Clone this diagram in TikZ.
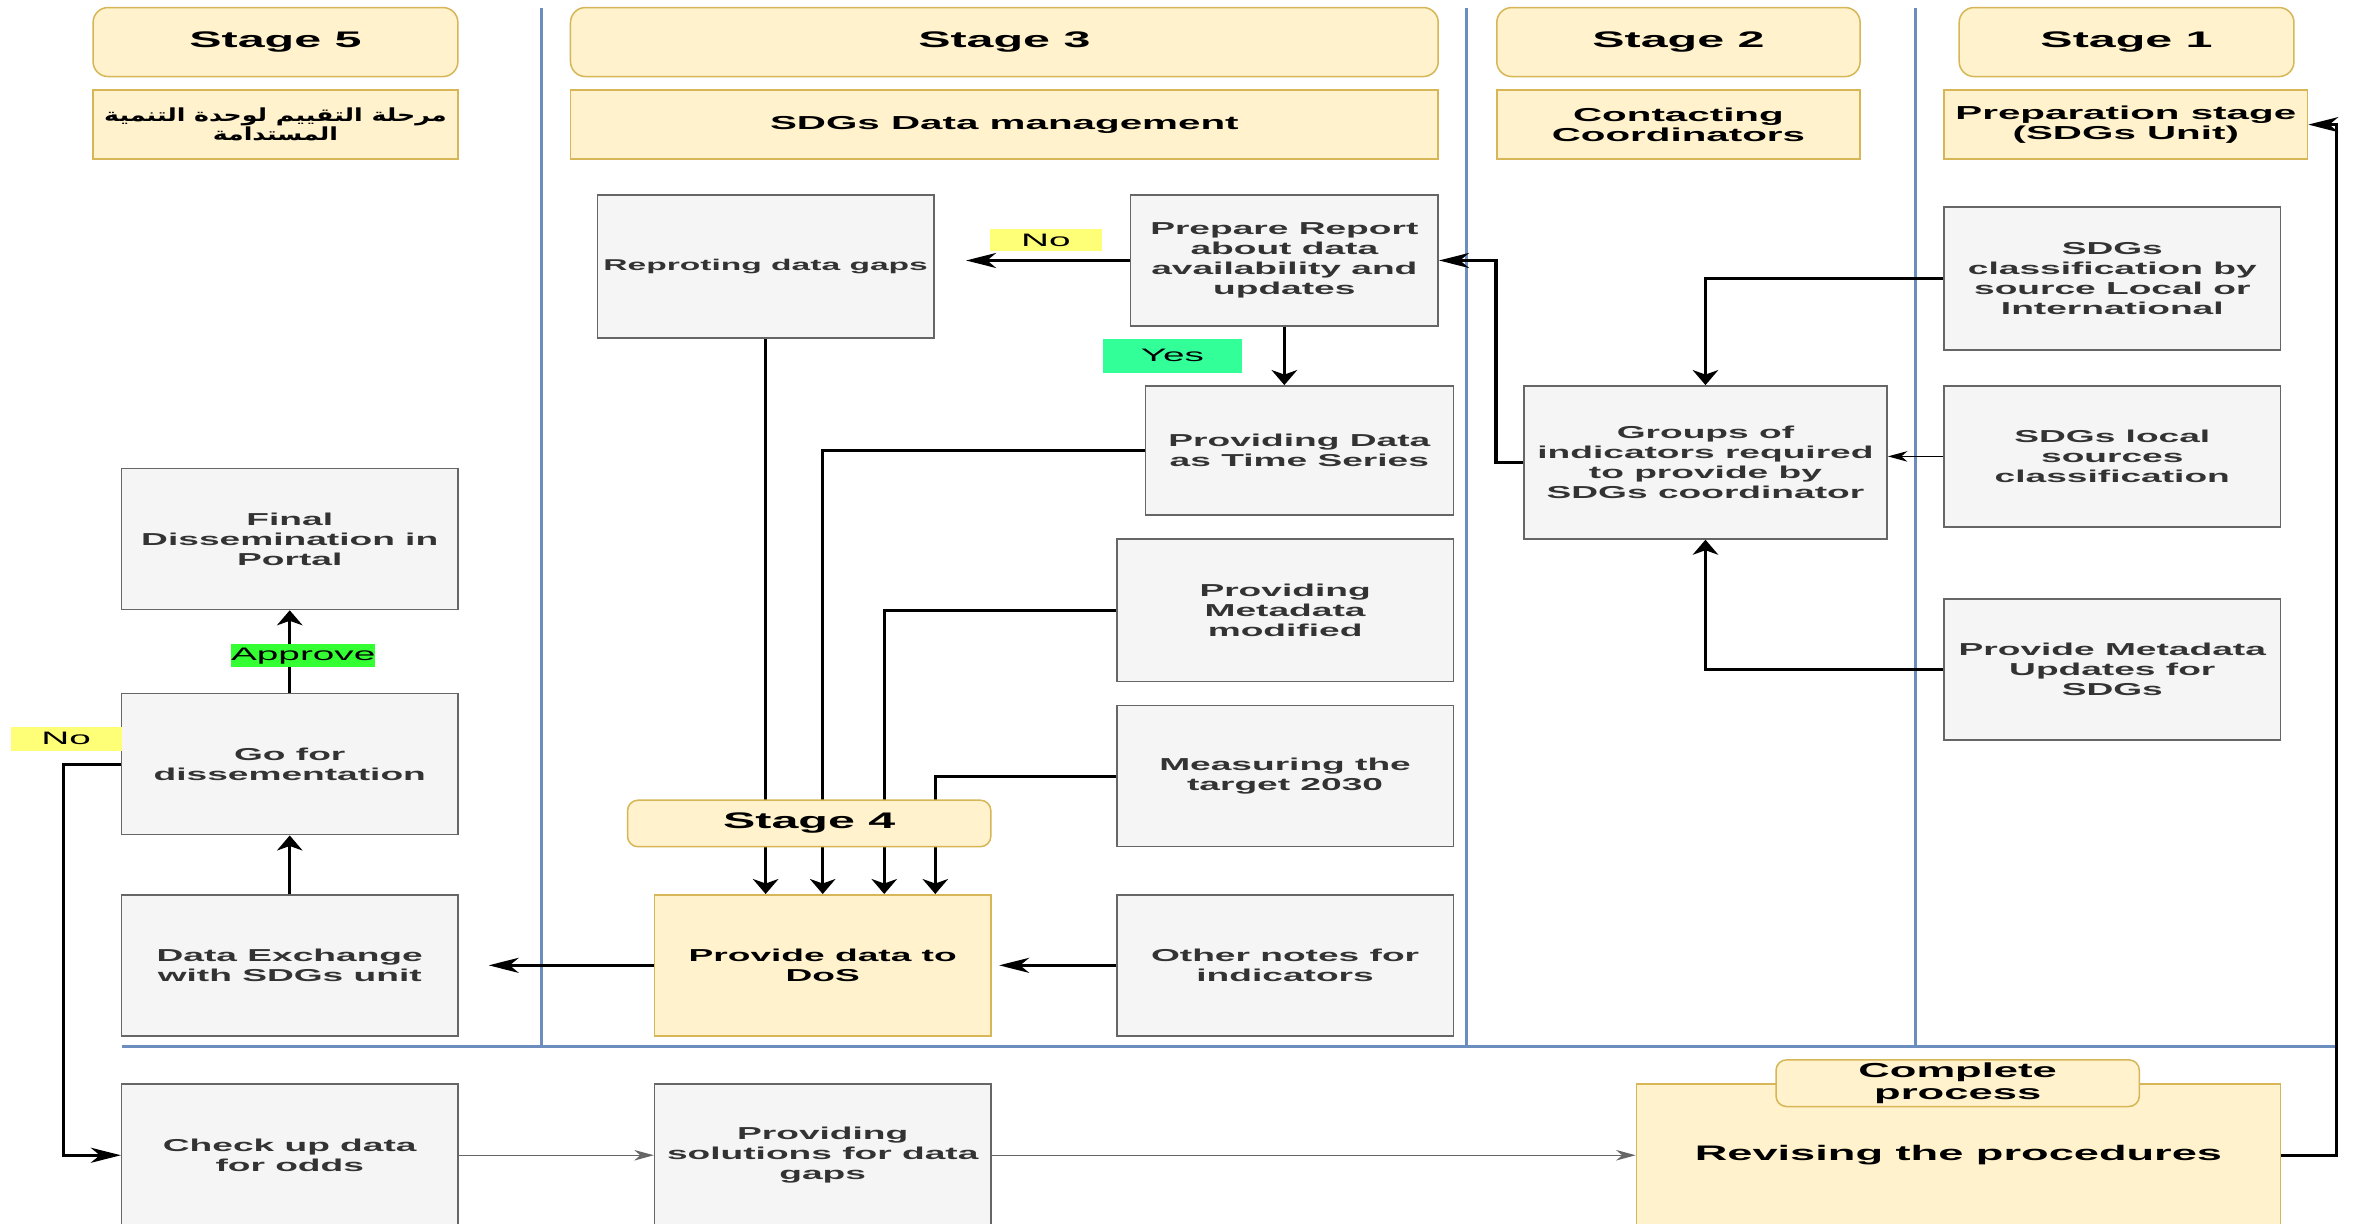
\documentclass[tikz,border=0pt]{standalone}
\usepackage{fontspec}
\setmainfont{Liberation Sans}[FakeStretch=2.15]
\newfontfamily\arabicfont[Script=Arabic,FakeStretch=1.4]{DejaVu Sans}
\TeXXeTstate=1
\usetikzlibrary{
        arrows.meta,
        positioning
    }
\definecolor{yfill}{HTML}{FFF2CC}
\definecolor{ydraw}{HTML}{D6B656}
\definecolor{gfill}{HTML}{F5F5F5}
\definecolor{gdraw}{HTML}{666666}
\definecolor{gtext}{HTML}{333333}
\definecolor{laneblue}{HTML}{6C8EBF}
\definecolor{notag}{HTML}{FFFF77}
\definecolor{yestag}{HTML}{33FF99}
\definecolor{oktag}{HTML}{33FF33}
\tikzset{hhead/.style={-{Stealth[length=20pt,width=10pt,inset=6pt]}}}
\tikzset{vhead/.style={-{Stealth[length=10pt,width=17pt,inset=3pt]}}}
\tikzset{smallhead/.style={-{Stealth[length=13pt,width=7pt,inset=4pt]}}}

\begin{document}
\begin{tikzpicture}[x=1pt,y=1pt]
                \tikzset{lane/.style={draw=laneblue,line width=2pt}}
                \tikzset{stagehead/.style={draw=ydraw,fill=yfill,line width=1pt,rounded corners=10pt,minimum height=46pt,inner sep=2pt,align=center,font=\fontsize{15}{18}\selectfont\bfseries}}
                \tikzset{subhead/.style={draw=ydraw,fill=yfill,line width=1pt,minimum height=46pt,inner sep=2pt,align=center,font=\fontsize{12.5}{13}\selectfont\bfseries}}
                \tikzset{task/.style={draw=gdraw,fill=gfill,text=gtext,line width=1pt,minimum width=224pt,minimum height=94pt,inner sep=2pt,align=center,font=\fontsize{11.5}{13.3}\selectfont\bfseries}}
                \tikzset{ytask/.style={task,draw=ydraw,fill=yfill,text=black}}
                \tikzset{tag/.style={inner sep=0pt,font=\fontsize{12}{13}\selectfont}}
                \tikzset{link/.style={line width=2.2pt}}
                \tikzset{thinlink/.style={line width=0.9pt}}
                \useasboundingbox (0,0) rectangle (1568,-815);
                \clip (0,0) rectangle (1568,-815);
                \fill[white] (0,0) rectangle (1568,-815);
                % swim lanes
                \draw[lane] (361,-5) -- (361,-697);
                \draw[lane] (977,-5) -- (977,-697);
                \draw[lane] (1276,-5) -- (1276,-697);
                \draw[lane] (81,-697) -- (1556,-697);
                % stage headers
                \node[stagehead,minimum width=243pt] (s5h) at (183.5,-28) {Stage 5};
                \node[stagehead,minimum width=578pt] (s3h) at (669,-28)   {Stage 3};
                \node[stagehead,minimum width=242pt] (s2h) at (1118,-28)  {Stage 2};
                \node[stagehead,minimum width=223pt] (s1h) at (1416.5,-28) {Stage 1};
                \node[subhead,minimum width=243pt,font=\arabicfont\bfseries\fontsize{12}{13}\selectfont] (s5s) at (183.5,-83)
                    {\beginR مرحلة التقييم لوحدة التنمية\endR\\\beginR المستدامة\endR};
                \node[subhead,minimum width=578pt] (s3s) at (669,-83)  {SDGs Data management};
                \node[subhead,minimum width=242pt] (s2s) at (1118,-83) {Contacting\\Coordinators};
                \node[subhead,minimum width=242pt] (s1s) at (1416,-83) {Preparation stage\\(SDGs Unit)};
                % stage 1
                \node[task,minimum height=95pt] (class) at (1407,-185.5) {SDGs\\classification by\\source Local or\\International};
                \node[task] (local) at (1407,-304) {SDGs local\\sources\\classification};
                \node[task] (mupd)  at (1407,-446) {Provide Metadata\\Updates for\\SDGs};
                % stage 2
                \node[task,minimum width=242pt,minimum height=102pt] (groups) at (1136,-308) {Groups of\\indicators required\\to provide by\\SDGs coordinator};
                % stage 3
                \node[task,minimum height=95pt,font=\fontsize{10.4}{12}\selectfont\bfseries] (rep) at (510,-177.5) {Reproting data gaps};
                \node[task,minimum width=205pt,minimum height=87pt] (prep) at (855.5,-173.5) {Prepare Report\\about data\\availability and\\updates};
                \node[task,minimum width=205pt,minimum height=86pt] (tseries) at (865.5,-300) {Providing Data\\as Time Series};
                \node[task,minimum height=95pt] (meta) at (856,-406.5) {Providing\\Metadata\\modified};
                \node[task] (target) at (856,-517) {Measuring the\\target 2030};
                \node[task] (notes)  at (856,-643) {Other notes for\\indicators};
                \node[ytask] (dos)   at (548,-643) {Provide data to\\DoS};
                % stage 5
                \node[task] (final) at (193,-359) {Final\\Dissemination in\\Portal};
                \node[task] (gofor) at (193,-509) {Go for\\dissementation};
                \node[task] (exch)  at (193,-643) {Data Exchange\\with SDGs unit};
                % bottom row
                \node[task,minimum height=95pt] (check) at (193,-769.5) {Check up data\\for odds};
                \node[task,minimum height=95pt] (sol)   at (548,-769.5) {Providing\\solutions for data\\gaps};
                \node[ytask,minimum width=429pt,minimum height=95pt,font=\fontsize{14}{16}\selectfont\bfseries] (rev) at (1304.5,-769.5) {Revising the procedures};
                \node[stagehead,minimum width=242pt,minimum height=31pt,rounded corners=7pt,font=\fontsize{13.5}{14.5}\selectfont\bfseries] (comp) at (1304,-721.5) {Complete\\process};
                % connectors
                \draw[link,hhead] (prep.west) -- node[tag,fill=notag,minimum width=75pt,minimum height=15pt,pos=0.43,above=5pt] (noA) {No} (rep.east |- prep.west) [shorten >=21pt];
                \draw[link,vhead] (prep.south) -- node[tag,fill=yestag,minimum width=93pt,minimum height=23pt,left=27pt] (yes) {Yes} (prep.south |- tseries.north);
                \draw[link,hhead] (groups.west) -- ++(-18,0) |- (prep.east);
                \draw[link,vhead] (class.west) -| (groups.north);
                \draw[thinlink,smallhead] (local.west) -- (groups.east |- local.west);
                \draw[link,vhead] (mupd.west) -| (groups.south);
                \draw[link,vhead] (rep.south) -- (rep.south |- dos.north);
                \draw[link,vhead] (tseries.west) -| (dos.north);
                \draw[link,vhead] (meta.west) -| ([xshift=41pt]dos.north);
                \draw[link,vhead] (target.west) -| ([xshift=75pt]dos.north);
                \draw[link,hhead,shorten >=5pt] (notes.west) -- (dos.east);
                \draw[link,hhead,shorten >=20pt] (dos.west) -- (exch.east);
                \draw[link,vhead] (exch.north) -- (gofor.south);
                \draw[link,vhead] (gofor.north) -- node[tag,fill=oktag,minimum width=94pt,minimum height=15pt,pos=0.45,xshift=9pt] (appr) {Approve} (final.south);
                \draw[link,hhead] (gofor.west) -- ++(-38,0) |- (check.west);
                \node[tag,fill=notag,minimum width=74pt,minimum height=16pt] (noB) at (44,-492) {No};
                \draw[thinlink,draw=gdraw,smallhead] (check.east) -- (sol.west);
                \draw[thinlink,draw=gdraw,smallhead] (sol.east) -- (rev.west);
                \draw[link,hhead] (rev.east) -- ++(37,0) |- (s1s.east);
                % stage 4 sits over the four lines
                \node[stagehead,minimum width=242pt,minimum height=31pt,rounded corners=7pt] (s4) at (539,-548.5) {Stage 4};
            \end{tikzpicture}
\end{document}
